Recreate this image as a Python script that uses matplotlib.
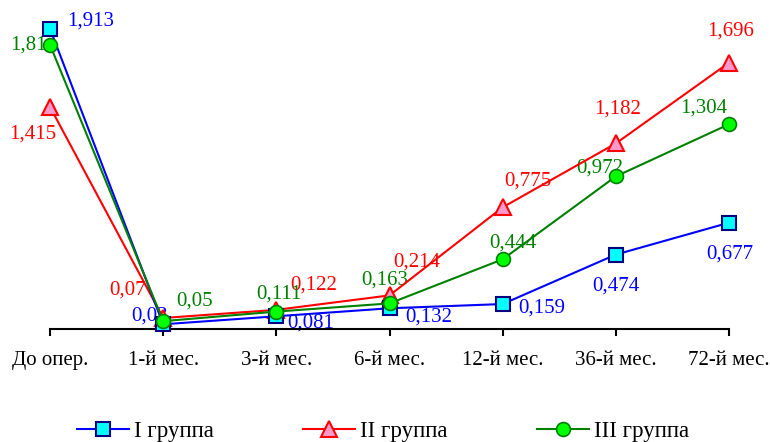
import matplotlib.pyplot as plt

plt.rcParams['font.family'] = ['Liberation Serif', 'DejaVu Serif']

cats = ['До опер.', '1-й мес.', '3-й мес.', '6-й мес.', '12-й мес.', '36-й мес.', '72-й мес.']
g1 = [1.913, 0.03, 0.081, 0.132, 0.159, 0.474, 0.677]
g2 = [1.415, 0.07, 0.122, 0.214, 0.775, 1.182, 1.696]
g3 = [1.81, 0.05, 0.111, 0.163, 0.444, 0.972, 1.304]
lab1 = ['1,913', '0,03', '0,081', '0,132', '0,159', '0,474', '0,677']
lab2 = ['1,415', '0,07', '0,122', '0,214', '0,775', '1,182', '1,696']
lab3 = ['1,81', '0,05', '0,111', '0,163', '0,444', '0,972', '1,304']

# label offsets in pixels (dx, dy)
off1 = [(41, 8), (-14, 8), (34, -7), (39, -9), (39, -4), (0, -31), (1, -31)]
off2 = [(-17, -27), (-36, 28), (37, 25), (27, 33), (25, 26), (2, 34), (2, 32)]
off3 = [(-22, 0), (31, 20), (3, 18), (-5, 23), (10, 16), (-16, 8), (-25, 16)]

fig = plt.figure(figsize=(7.7, 4.42), dpi=100)
ax = fig.add_axes([50/770, 113/442, 679/770, 314/442])
x = list(range(len(cats)))

ax.plot(x, g1, color='#0000ff', lw=1.5, marker='s', ms=10, mfc='#00ffff', mec='#000080', mew=1.5,
        label='I группа', zorder=3, clip_on=False)
ax.plot(x, g2, color='#ff0000', lw=1.5, marker='^', ms=11, mfc='#ff99cc', mec='#ff0000', mew=1.5,
        label='II группа', zorder=2, clip_on=False)
ax.plot(x, g3, color='#008000', lw=1.5, marker='o', ms=10, mfc='#00ff00', mec='#008000', mew=1.2,
        label='III группа', zorder=4, clip_on=False)

for vals, labs, offs, c in [(g1, lab1, off1, '#0000ff'), (g2, lab2, off2, '#ff0000'), (g3, lab3, off3, '#008000')]:
    for i in range(len(vals)):
        ax.annotate(labs[i], (x[i], vals[i]), xytext=offs[i], textcoords='offset pixels',
                    ha='center', va='center', color=c, fontsize=15, zorder=1)

ax.set_xlim(0, 6)
ax.set_ylim(0, 2.0)
ax.set_xticks(x)
ax.set_xticklabels(cats, fontsize=15)
ax.set_yticks([])
for s in ['left', 'right', 'top']:
    ax.spines[s].set_visible(False)
ax.spines['bottom'].set_linewidth(1.5)
ax.tick_params(axis='x', direction='out', length=5, width=1.5, pad=11)

fig.legend(loc='center', bbox_to_anchor=(383/770, 1 - 431/442), ncol=3, frameon=False, fontsize=16.5,
           columnspacing=3.9, handlelength=2.27, handletextpad=0.22, borderpad=0)

fig.savefig('out.png', dpi=100)
